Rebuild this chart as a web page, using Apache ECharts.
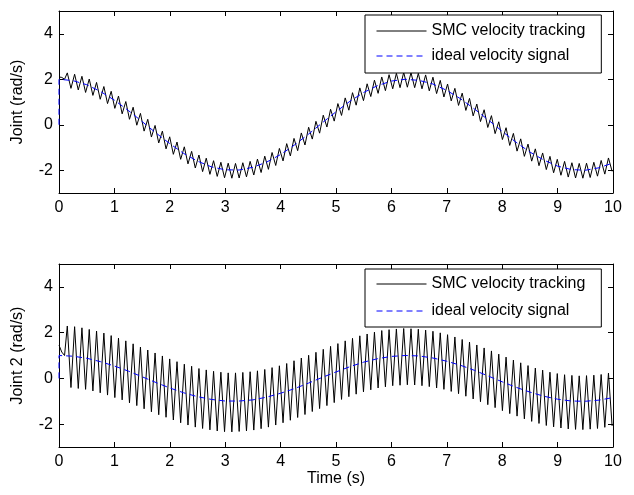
<!DOCTYPE html>
<html>
<head>
<meta charset="utf-8">
<script src="https://cdn.jsdelivr.net/npm/echarts@6/dist/echarts.min.js"></script>
<style>
html,body{margin:0;padding:0;background:#fff;}
#chart{width:634px;height:495px;}
</style>
</head>
<body>
<div id="chart"></div>
<script>
// ---------- data ----------
const xTicks = [0,1,2,3,4,5,6,7,8,9,10];
const yTicks = [-2,0,2,4];
const seriesNames = ['SMC velocity tracking','ideal velocity signal'];
const yNames = ['Joint (rad/s)','Joint 2 (rad/s)'];
const xName = 'Time (s)';

// ideal signals sampled every 0.25 s from t=0 (preceded by the value at t=0 before the jump)
const idealStep = 0.25;
const ideal1Start = 0;
const ideal1 = [2,1.94,1.76,1.46,1.08,0.63,0.14,-0.36,-0.83,-1.26,-1.60,-1.85,-1.98,-1.99,-1.87,-1.64,-1.31,-0.89,-0.42,0.08,0.57,1.03,1.42,1.72,1.92,2.00,1.95,1.79,1.51,1.14,0.69,0.21,-0.29,-0.77,-1.20,-1.55,-1.82,-1.97,-2.00,-1.89,-1.68];
const ideal2Start = 0;
const ideal2 = [1,0.97,0.88,0.73,0.54,0.32,0.07,-0.18,-0.42,-0.63,-0.80,-0.92,-0.99,-0.99,-0.94,-0.82,-0.65,-0.45,-0.21,0.04,0.28,0.51,0.71,0.86,0.96,1.00,0.98,0.89,0.75,0.57,0.35,0.10,-0.15,-0.39,-0.60,-0.78,-0.91,-0.99,-1.00,-0.95,-0.84];

// SMC tracking: short start-up segment, then alternating peaks/troughs of the chattering
const headTimes = [0,0.05,0.1];
const smc1Head = [2.10,2.08,2.00];
const smc2Head = [1.45,1.15,1.00];
const toothStart = 0.15;
const toothStep = 0.066;
const smc1 = [2.28,1.60,2.22,1.53,2.13,1.42,2.01,1.29,1.86,1.12,1.68,0.93,1.47,0.72,1.26,0.48,1.02,0.24,0.77,-0.02,
0.50,-0.28,0.24,-0.54,-0.03,-0.80,-0.28,-1.06,-0.53,-1.30,-0.76,-1.52,-0.97,-1.72,-1.17,-1.90,-1.33,-2.06,-1.47,-2.18,
-1.58,-2.27,-1.65,-2.33,-1.69,-2.35,-1.70,-2.34,-1.67,-2.29,-1.61,-2.21,-1.51,-2.10,-1.38,-1.96,-1.22,-1.79,-1.04,-1.59,
-0.83,-1.37,-0.60,-1.14,-0.36,-0.89,-0.11,-0.63,0.15,-0.37,0.42,-0.10,0.68,0.16,0.93,0.41,1.18,0.64,1.41,0.86,
1.62,1.06,1.80,1.24,1.96,1.38,2.10,1.50,2.20,1.58,2.26,1.63,2.30,1.65,2.29,1.63,2.26,1.58,2.19,1.49,
2.09,1.37,1.95,1.22,1.79,1.05,1.60,0.85,1.39,0.63,1.16,0.39,0.91,0.14,0.66,-0.12,0.40,-0.39,0.13,-0.65,
-0.13,-0.91,-0.38,-1.16,-0.62,-1.39,-0.85,-1.60,-1.06,-1.80,-1.24,-1.97,-1.39,-2.11,-1.52,-2.22,-1.61,-2.30,-1.67,-2.34,
-1.70,-2.35,-1.69,-2.32,-1.65,-2.26,-1.57,-2.17,-1.46,-2.05];
const smc2 = [2.29,-0.40,2.26,-0.44,2.21,-0.48,2.14,-0.55,2.07,-0.63,1.98,-0.73,1.87,-0.84,1.76,-0.94,1.64,-1.07,1.51,-1.19,
1.37,-1.33,1.24,-1.46,1.11,-1.59,0.98,-1.70,0.85,-1.82,0.73,-1.94,0.62,-2.04,0.53,-2.13,0.43,-2.19,0.37,-2.25,
0.31,-2.30,0.27,-2.33,0.24,-2.34,0.24,-2.32,0.26,-2.30,0.29,-2.26,0.33,-2.20,0.39,-2.13,0.47,-2.04,0.55,-1.94,
0.65,-1.83,0.77,-1.71,0.89,-1.58,1.01,-1.45,1.14,-1.32,1.27,-1.19,1.40,-1.06,1.52,-0.92,1.64,-0.80,1.75,-0.69,
1.86,-0.59,1.94,-0.50,2.02,-0.42,2.09,-0.37,2.13,-0.32,2.16,-0.30,2.18,-0.28,2.17,-0.29,2.15,-0.32,2.11,-0.36,
2.06,-0.42,1.99,-0.48,1.91,-0.57,1.81,-0.67,1.70,-0.78,1.59,-0.90,1.46,-1.02,1.33,-1.15,1.20,-1.28,1.06,-1.41,
0.93,-1.54,0.80,-1.65,0.68,-1.77,0.56,-1.88,0.45,-1.97,0.36,-2.06,0.27,-2.12,0.21,-2.17,0.16,-2.21,0.13,-2.23,
0.11,-2.24,0.12,-2.22,0.14,-2.19,0.17,-2.14,0.23,-2.08];

// ---------- build series data ----------
function idealData(start, vals){
  const d = [[0, start]];
  vals.forEach((v,i)=>d.push([+(i*idealStep).toFixed(3), v]));
  return d;
}
function smcData(head, vals){
  const d = head.map((v,i)=>[headTimes[i], v]);
  vals.forEach((v,i)=>d.push([+(toothStart + i*toothStep).toFixed(3), v]));
  return d;
}

const FONT = 'Liberation Sans, Arial, Helvetica, sans-serif';
const FS = 16;
const black = '#000';

function xAx(grid, withName){
  return [{
    type:'value', gridIndex:grid, min:0, max:10, interval:1, position:'bottom',
    name: withName ? xName : '', nameLocation:'middle', nameGap:20,
    nameTextStyle:{color:black,fontSize:FS,fontFamily:FONT},
    axisLine:{onZero:false,lineStyle:{color:black,width:1}},
    axisTick:{inside:true,length:5,lineStyle:{color:black}},
    axisLabel:{color:black,fontSize:FS,fontFamily:FONT,margin:7,showMinLabel:true,showMaxLabel:true},
    splitLine:{show:false}
  },{
    type:'value', gridIndex:grid, min:0, max:10, interval:1, position:'top',
    axisLine:{onZero:false,lineStyle:{color:black,width:1}},
    axisTick:{inside:true,length:5,lineStyle:{color:black}},
    axisLabel:{show:false}, splitLine:{show:false}
  }];
}
function yAx(grid, name){
  return [{
    type:'value', gridIndex:grid, min:-3, max:5, position:'left',
    name:name, nameLocation:'middle', nameGap:33,
    nameTextStyle:{color:black,fontSize:FS,fontFamily:FONT},
    axisLine:{onZero:false,lineStyle:{color:black,width:1}},
    axisTick:{inside:true,length:5,lineStyle:{color:black},customValues:yTicks},
    axisLabel:{color:black,fontSize:FS,fontFamily:FONT,margin:6,customValues:yTicks},
    splitLine:{show:false}
  },{
    type:'value', gridIndex:grid, min:-3, max:5, position:'right',
    axisLine:{onZero:false,lineStyle:{color:black,width:1}},
    axisTick:{inside:true,length:5,lineStyle:{color:black},customValues:yTicks},
    axisLabel:{show:false}, splitLine:{show:false}
  }];
}

function smcSeries(xi, yi, data){
  return {name:seriesNames[0], type:'line', xAxisIndex:xi, yAxisIndex:yi, data:data,
    symbol:'none', showSymbol:false, animation:false, z:2,
    lineStyle:{color:black,width:1}, itemStyle:{color:black}};
}
function idealSeries(xi, yi, data){
  return {name:seriesNames[1], type:'line', xAxisIndex:xi, yAxisIndex:yi, data:data,
    symbol:'none', showSymbol:false, animation:false, z:3,
    lineStyle:{color:'#0000ff',width:1,type:[6,4]}, itemStyle:{color:'#0000ff'}};
}

function legend(top, pad, gap){
  return {
    show:true, orient:'vertical', left:365, top:top, data:seriesNames,
    itemWidth:50, itemHeight:14, itemGap:gap, padding:pad,
    backgroundColor:'#fff', borderColor:black, borderWidth:1, borderRadius:0,
    textStyle:{color:black,fontSize:FS,fontFamily:FONT},
    itemStyle:{opacity:0, borderWidth:0},
    lineStyle:{width:1},
    selectedMode:false
  };
}

const chart = echarts.init(document.getElementById('chart'), null, {renderer:'canvas'});
chart.setOption({
  backgroundColor:'#fff',
  animation:false,
  grid:[
    {left:59, right:21, top:11, height:182, containLabel:false},
    {left:59, right:21, top:264, height:183, containLabel:false}
  ],
  xAxis:[...xAx(0,false), ...xAx(1,true)],
  yAxis:[...yAx(0,yNames[0]), ...yAx(1,yNames[1])],
  legend:[legend(15,[8,16,9,11],9), legend(269,[7,16,8,11],11)],
  series:[
    smcSeries(0,0,smcData(smc1Head,smc1)),
    idealSeries(0,0,idealData(ideal1Start,ideal1)),
    smcSeries(2,2,smcData(smc2Head,smc2)),
    idealSeries(2,2,idealData(ideal2Start,ideal2))
  ]
});
</script>
</body>
</html>
